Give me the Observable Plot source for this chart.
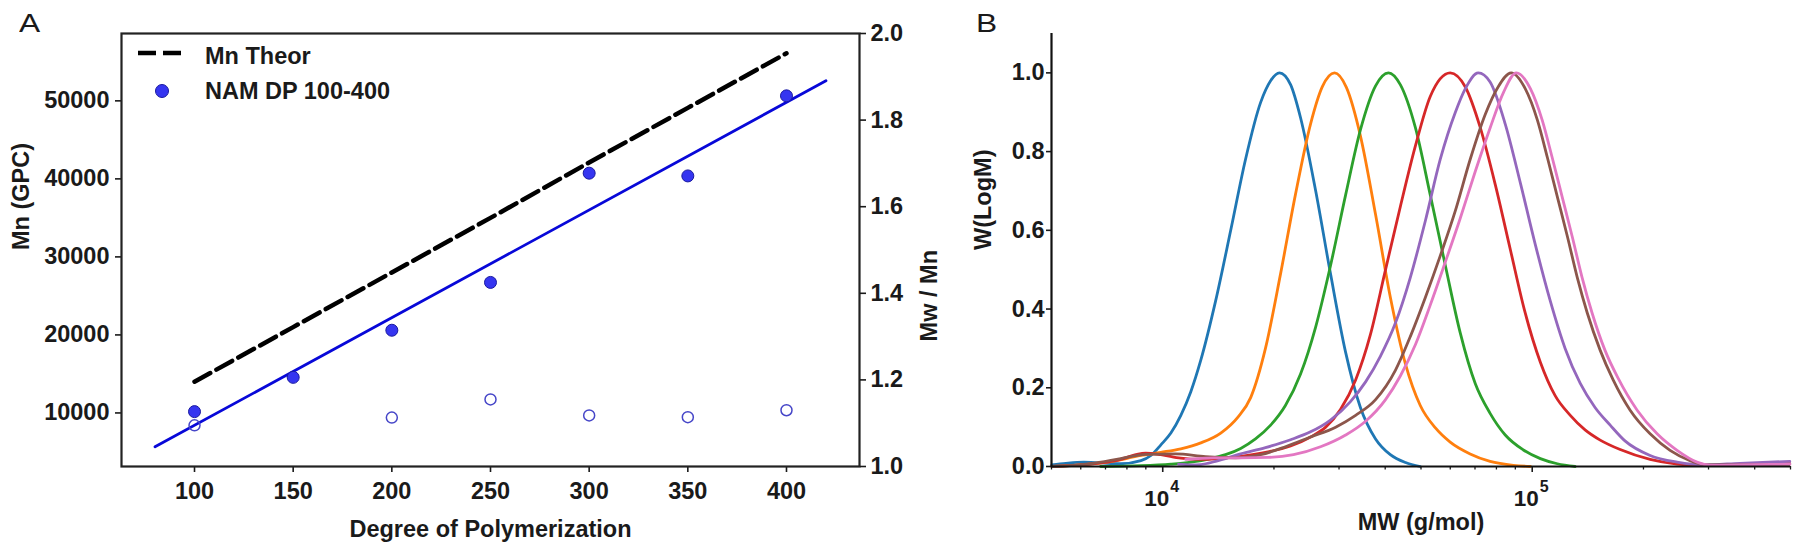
<!DOCTYPE html>
<html>
<head>
<meta charset="utf-8">
<script src="https://cdn.jsdelivr.net/npm/d3@7"></script>
<script src="https://cdn.jsdelivr.net/npm/@observablehq/plot@0.6"></script>
<style>
  html, body { margin: 0; padding: 0; background: #fff; }
  #root { position: relative; width: 1800px; height: 550px; overflow: hidden; font-family: 'Liberation Sans', Arial, sans-serif; color: #1a1a1a; }
  .layer { position: absolute; top: 0; }
  .letter { position: absolute; font-size: 26px; line-height: 26px; font-weight: normal; transform: scaleX(1.22); transform-origin: left top; }
</style>
</head>
<body>
<div id="root">
  <div id="a" class="layer" style="left:0"></div>
  <div id="a2" class="layer" style="left:0"></div>
  <div id="b" class="layer" style="left:960px"></div>
  <div class="letter" style="left:19px;top:10px">A</div>
  <div class="letter" style="left:976px;top:10px">B</div>
  <svg id="legend" class="layer" style="left:0;pointer-events:none" width="420" height="130">
    <line x1="138" x2="182" y1="53" y2="53" stroke="#000" stroke-width="4.5" stroke-dasharray="18,7"></line>
    <text x="205" y="64" font-family="'Liberation Sans', Arial, sans-serif" font-weight="bold" font-size="23.5" fill="#1a1a1a">Mn Theor</text>
    <circle cx="162" cy="91" r="6.5" fill="#3535f0" stroke="#1a1aa0" stroke-width="1"></circle>
    <text x="205" y="99" font-family="'Liberation Sans', Arial, sans-serif" font-weight="bold" font-size="23.5" fill="#1a1a1a">NAM DP 100-400</text>
  </svg>
</div>
<script>
// ---------- Panel A data ----------
const dp = [100, 150, 200, 250, 300, 350, 400];
const mnGpc = [10170, 14560, 20600, 26730, 40730, 40380, 50640];
const mnTheor = [14000, 21000, 28000, 35000, 42100, 49100, 56100];
const pdiDp = [100, 200, 250, 300, 350, 400];
const pdi = [1.095, 1.113, 1.155, 1.118, 1.114, 1.130];
const fitRange = [80, 420];
const dpTicks = [100, 150, 200, 250, 300, 350, 400];
const mnTicks = [10000, 20000, 30000, 40000, 50000];
const pdiTicks = [1.0, 1.2, 1.4, 1.6, 1.8, 2.0];

// ---------- Panel B data (log10 MW, W(logM)) ----------
const blueLogM = [3.700, 3.738, 3.786, 3.832, 3.886, 3.941, 3.968, 3.995, 4.022, 4.049, 4.076, 4.103, 4.143, 4.184, 4.224, 4.265, 4.292, 4.316, 4.346, 4.373, 4.414, 4.454, 4.495, 4.535, 4.576, 4.616, 4.657, 4.697];
const blueW    = [0.004, 0.008, 0.011, 0.009, 0.007, 0.015, 0.028, 0.055, 0.085, 0.13, 0.19, 0.27, 0.42, 0.60, 0.78, 0.925, 0.98, 1.0, 0.97, 0.886, 0.70, 0.49, 0.29, 0.15, 0.07, 0.03, 0.01, 0.0];
const orangeLogM = [3.700, 3.759, 3.851, 3.941, 3.995, 4.049, 4.103, 4.157, 4.203, 4.238, 4.278, 4.319, 4.359, 4.400, 4.432, 4.465, 4.497, 4.535, 4.576, 4.616, 4.657, 4.697, 4.738, 4.778, 4.832, 4.886, 4.949, 4.995];
const orangeW    = [0.0, 0.003, 0.011, 0.028, 0.036, 0.045, 0.06, 0.085, 0.125, 0.175, 0.30, 0.49, 0.69, 0.87, 0.965, 1.0, 0.963, 0.84, 0.64, 0.43, 0.26, 0.155, 0.098, 0.062, 0.032, 0.013, 0.003, 0.0];
const greenLogM = [3.832, 3.941, 4.022, 4.076, 4.130, 4.170, 4.211, 4.251, 4.292, 4.332, 4.373, 4.414, 4.454, 4.495, 4.535, 4.576, 4.611, 4.643, 4.684, 4.724, 4.765, 4.805, 4.846, 4.886, 4.927, 4.976, 5.022, 5.068, 5.116];
const greenW    = [0.0, 0.002, 0.006, 0.011, 0.02, 0.03, 0.046, 0.07, 0.105, 0.155, 0.235, 0.355, 0.51, 0.69, 0.855, 0.967, 1.0, 0.97, 0.86, 0.69, 0.51, 0.34, 0.21, 0.135, 0.08, 0.042, 0.02, 0.007, 0.0];
const redLogM = [3.700, 3.778, 3.832, 3.886, 3.927, 3.954, 3.995, 4.049, 4.103, 4.157, 4.211, 4.278, 4.346, 4.400, 4.441, 4.481, 4.522, 4.562, 4.603, 4.643, 4.684, 4.724, 4.778, 4.819, 4.859, 4.900, 4.941, 4.981, 5.022, 5.062, 5.103, 5.143, 5.184, 5.238, 5.319, 5.392, 5.468, 5.562, 5.697];
const redW    = [0.0, 0.004, 0.009, 0.018, 0.03, 0.034, 0.03, 0.021, 0.018, 0.021, 0.026, 0.036, 0.052, 0.075, 0.10, 0.145, 0.22, 0.335, 0.50, 0.66, 0.815, 0.94, 1.0, 0.964, 0.862, 0.716, 0.55, 0.39, 0.265, 0.18, 0.13, 0.093, 0.067, 0.043, 0.018, 0.006, 0.002, 0.004, 0.007];
const purpleLogM = [4.043, 4.076, 4.103, 4.143, 4.211, 4.278, 4.346, 4.400, 4.454, 4.508, 4.549, 4.589, 4.630, 4.670, 4.711, 4.751, 4.792, 4.819, 4.854, 4.886, 4.927, 4.968, 5.008, 5.049, 5.089, 5.130, 5.170, 5.211, 5.251, 5.319, 5.392, 5.462, 5.562, 5.697];
const purpleW    = [0.006, 0.004, 0.005, 0.013, 0.032, 0.048, 0.068, 0.088, 0.118, 0.165, 0.215, 0.28, 0.365, 0.48, 0.625, 0.78, 0.90, 0.96, 1.0, 0.977, 0.87, 0.72, 0.565, 0.42, 0.30, 0.211, 0.15, 0.105, 0.065, 0.028, 0.011, 0.004, 0.008, 0.013];
const brownLogM = [3.700, 3.805, 3.886, 3.954, 4.035, 4.116, 4.197, 4.265, 4.332, 4.400, 4.468, 4.522, 4.576, 4.630, 4.670, 4.711, 4.751, 4.792, 4.832, 4.873, 4.908, 4.943, 4.981, 5.014, 5.041, 5.068, 5.095, 5.122, 5.149, 5.184, 5.219, 5.265, 5.319, 5.373, 5.427, 5.473, 5.562, 5.697];
const brownW    = [0.0, 0.007, 0.02, 0.031, 0.032, 0.025, 0.022, 0.03, 0.05, 0.075, 0.10, 0.13, 0.17, 0.245, 0.33, 0.43, 0.535, 0.65, 0.78, 0.895, 0.965, 1.0, 0.96, 0.88, 0.785, 0.685, 0.585, 0.48, 0.39, 0.295, 0.22, 0.143, 0.083, 0.041, 0.015, 0.004, 0.004, 0.006];
const pinkLogM = [4.062, 4.138, 4.211, 4.284, 4.354, 4.427, 4.495, 4.549, 4.603, 4.643, 4.684, 4.724, 4.765, 4.805, 4.846, 4.886, 4.922, 4.957, 4.995, 5.027, 5.054, 5.081, 5.108, 5.135, 5.162, 5.197, 5.232, 5.284, 5.338, 5.392, 5.446, 5.481, 5.562, 5.697];
const pinkW    = [0.018, 0.022, 0.022, 0.023, 0.03, 0.05, 0.08, 0.115, 0.17, 0.23, 0.31, 0.41, 0.52, 0.63, 0.75, 0.86, 0.95, 1.0, 0.96, 0.88, 0.785, 0.685, 0.585, 0.48, 0.39, 0.295, 0.225, 0.143, 0.083, 0.041, 0.011, 0.003, 0.004, 0.006];
const seriesColors = ["#1f77b4", "#ff7f0e", "#2ca02c", "#d62728", "#9467bd", "#8c564b", "#e377c2"];
const mwMajorTicks = [1e4, 1e5];
const mwMinorTicks = [5000, 6000, 7000, 8000, 9000, 20000, 30000, 40000, 50000, 60000, 70000, 80000, 90000, 200000, 300000, 400000, 500000];
const wTicks = [0, 0.2, 0.4, 0.6, 0.8, 1.0];

// ---------- build tables ----------
const mnRows = dp.map((x, i) => ({dp: x, mn: mnGpc[i]}));
const theorRows = dp.map((x, i) => ({dp: x, mn: mnTheor[i]}));
const pdiRows = pdiDp.map((x, i) => ({dp: x, pdi: pdi[i]}));
const xm = d3.mean(dp), ym = d3.mean(mnGpc);
const slope = d3.sum(dp, (x, i) => (x - xm) * (mnGpc[i] - ym)) / d3.sum(dp, x => (x - xm) ** 2);
const icpt = ym - slope * xm;
const fitRows = fitRange.map(x => ({dp: x, mn: icpt + slope * x}));

const seriesLogM = [blueLogM, orangeLogM, greenLogM, redLogM, purpleLogM, brownLogM, pinkLogM];
const seriesW = [blueW, orangeW, greenW, redW, purpleW, brownW, pinkW];
const seriesRows = seriesLogM.map((lm, s) => lm.slice(0, Math.min(lm.length, seriesW[s].length)).map((v, i) => ({mw: Math.pow(10, v), w: seriesW[s][i]})));

const font = "'Liberation Sans', Arial, sans-serif";
const baseStyle = {fontFamily: font, fontSize: "23.5px", fontWeight: "bold", color: "#1a1a1a", background: "transparent", overflow: "visible"};
const FS = "23.5px";

// ---------- Panel A (left axis) ----------
const xDomA = [63, 437];
const plotA = Plot.plot({
  width: 960, height: 550,
  marginLeft: 121, marginRight: 101, marginTop: 33, marginBottom: 84,
  style: baseStyle,
  x: {domain: xDomA},
  y: {domain: [3136, 58632]},
  marks: [
    Plot.axisX({ticks: dpTicks, tickFormat: d3.format("d"), tickSize: 6, tickPadding: 10, label: null, strokeWidth: 1.6, fontSize: FS}),
    Plot.axisY({ticks: mnTicks, tickFormat: d3.format("d"), tickSize: 6, tickPadding: 6, label: null, strokeWidth: 1.6, fontSize: FS}),
    Plot.line(theorRows, {x: "dp", y: "mn", stroke: "#000", strokeWidth: 4.5, strokeDasharray: "18,7"}),
    Plot.line(fitRows, {x: "dp", y: "mn", stroke: "#0808d8", strokeWidth: 2.8}),
    Plot.dot(mnRows, {x: "dp", y: "mn", r: 6, fill: "#3535f0", stroke: "#1a1aa0", strokeWidth: 1}),
    Plot.frame({stroke: "#222", strokeWidth: 2.2}),
    Plot.text(["Degree of Polymerization"], {frameAnchor: "bottom", lineAnchor: "top", dy: 54, fontSize: FS, fontWeight: "bold"}),
    Plot.text(["Mn (GPC)"], {frameAnchor: "left", dx: -100, rotate: -90, fontSize: FS, fontWeight: "bold"})
  ]
});
document.getElementById("a").appendChild(plotA);

// ---------- Panel A (right axis overlay) ----------
const plotA2 = Plot.plot({
  width: 960, height: 550,
  marginLeft: 121, marginRight: 101, marginTop: 33, marginBottom: 84,
  style: baseStyle,
  x: {domain: xDomA, axis: null},
  y: {domain: [1.0, 2.0]},
  marks: [
    Plot.axisY({anchor: "right", ticks: pdiTicks, tickFormat: d3.format(".1f"), tickSize: 6, tickPadding: 5, label: null, strokeWidth: 1.6, fontSize: FS}),
    Plot.dot(pdiRows, {x: "dp", y: "pdi", r: 5.5, fill: "none", stroke: "#4646c8", strokeWidth: 1.5}),
    Plot.text(["Mw / Mn"], {frameAnchor: "right", dx: 70, rotate: -90, fontSize: FS, fontWeight: "bold"})
  ]
});
document.getElementById("a2").appendChild(plotA2);

// ---------- Panel B ----------
const lineMarks = seriesRows.map((rows, s) => Plot.line(rows, {x: "mw", y: "w", stroke: seriesColors[s], strokeWidth: 2.8, curve: "monotone-x"}));
const plotB = Plot.plot({
  width: 840, height: 550,
  marginLeft: 91, marginRight: 10, marginTop: 33, marginBottom: 84,
  style: baseStyle,
  x: {type: "log", domain: [5000, 500000]},
  y: {domain: [0, 1.1]},
  marks: [
    ...lineMarks,
    Plot.axisX({ticks: mwMinorTicks, tickSize: 3.5, tickFormat: () => "", label: null, strokeWidth: 1.3}),
    Plot.axisX({ticks: mwMajorTicks, tickSize: 6, tickFormat: () => "", label: null, strokeWidth: 1.6}),
    Plot.axisY({ticks: wTicks, tickFormat: d3.format(".1f"), tickSize: 5, tickPadding: 2, label: null, strokeWidth: 1.6, fontSize: FS}),
    Plot.ruleX([5000], {stroke: "#111", strokeWidth: 2.2}),
    Plot.ruleY([0], {stroke: "#111", strokeWidth: 2.2}),
    Plot.text(mwMajorTicks, {x: d => d, text: () => "10", frameAnchor: "bottom", lineAnchor: "top", dy: 24, dx: -6, fontSize: "22.5px", fontWeight: "bold"}),
    Plot.text(mwMajorTicks, {x: d => d, text: d => String(Math.round(Math.log10(d))), frameAnchor: "bottom", lineAnchor: "top", dy: 14, dx: 12, fontSize: "16px", fontWeight: "bold"}),
    Plot.text(["MW (g/mol)"], {frameAnchor: "bottom", lineAnchor: "top", dy: 47, fontSize: FS, fontWeight: "bold"}),
    Plot.text(["W(LogM)"], {frameAnchor: "left", dx: -68, rotate: -90, fontSize: FS, fontWeight: "bold"})
  ]
});
document.getElementById("b").appendChild(plotB);
</script>
</body>
</html>
